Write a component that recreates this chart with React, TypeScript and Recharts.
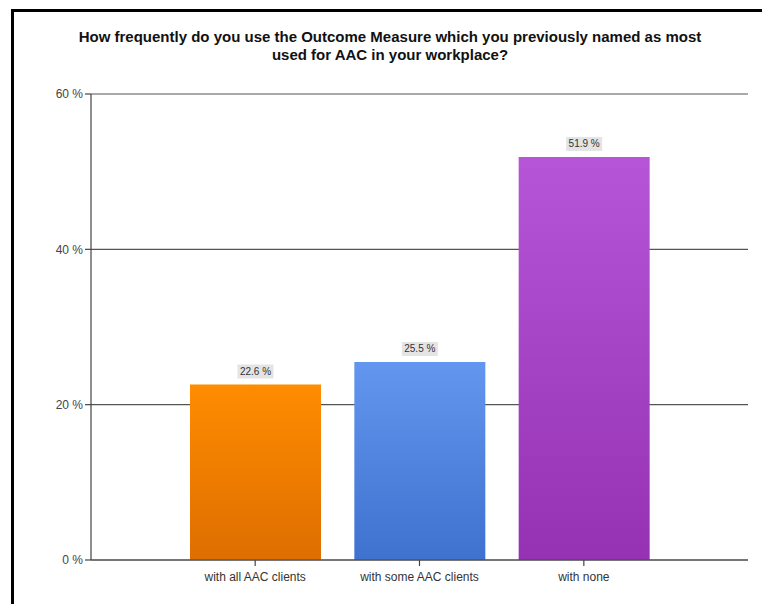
import { BarChart, Bar, CartesianGrid, XAxis, YAxis, LabelList, Cell, Customized } from 'recharts'

const categories = ['with all AAC clients', 'with some AAC clients', 'with none']
const shares = [22.6, 25.5, 51.9]
const yTicks = [0, 20, 40, 60]

const BAR_COLORS = [
  { id: 'gOrange', top: '#ff8c00', bottom: '#de6e00' },
  { id: 'gBlue', top: '#6396ee', bottom: '#3f72cf' },
  { id: 'gPurple', top: '#b655d8', bottom: '#9532b3' },
]

const data = categories.map((name, i) => ({ name, value: shares[i] }))

const ValueLabel = (props: any) => {
  const { x, y, width, value } = props
  const cx = x + width / 2
  const label = `${value} %`
  const w = 36
  return (
    <g>
      <rect x={cx - w / 2} y={y - 20} width={w} height={14} fill="#e4e4e4" />
      <text x={cx} y={y - 9.5} textAnchor="middle" fontSize={10} fill="#333" fontFamily="Liberation Sans, Arial, sans-serif">
        {label}
      </text>
    </g>
  )
}

// little end ticks below the x axis, like the original export
const AxisEnds = (props: any) => {
  const { offset } = props
  if (!offset) return null
  const yb = offset.top + offset.height
  const xl = offset.left
  const xr = offset.left + offset.width
  return (
    <g stroke="#444" strokeWidth={1.2}>
      <line x1={xl} y1={yb} x2={xl} y2={yb + 6} />
      <line x1={xr} y1={yb} x2={xr} y2={yb + 6} />
    </g>
  )
}

export default function App() {
  return (
    <div style={{ position: 'absolute', left: 0, top: 0, width: 762, height: 604, background: '#fff', overflow: 'hidden' }}>
      <div
        style={{
          position: 'absolute',
          left: 11,
          top: 9,
          width: 751,
          height: 595,
          boxSizing: 'border-box',
          borderLeft: '3px solid #000',
          borderTop: '3px solid #000',
        }}
      />
      <div
        style={{
          position: 'absolute',
          left: 40,
          width: 700,
          top: 28,
          textAlign: 'center',
          fontFamily: 'Liberation Sans, Arial, sans-serif',
          fontWeight: 'bold',
          fontSize: 15,
          lineHeight: '18px',
          color: '#111',
        }}
      >
        How frequently do you use the Outcome Measure which you previously named as most
        <br />
        used for AAC in your workplace?
      </div>
      <div style={{ position: 'absolute', left: 0, top: 0 }}>
        <BarChart
          width={762}
          height={604}
          data={data}
          margin={{ top: 94, right: 14, left: 11, bottom: 14 }}
          barSize={131}
        >
          <defs>
            {BAR_COLORS.map((c) => (
              <linearGradient key={c.id} id={c.id} x1="0" y1="0" x2="0" y2="1">
                <stop offset="0%" stopColor={c.top} />
                <stop offset="100%" stopColor={c.bottom} />
              </linearGradient>
            ))}
          </defs>
          <CartesianGrid vertical={false} stroke="#555" strokeWidth={1.2} />
          <XAxis
            dataKey="name"
            height={30}
            padding={{ left: 82, right: 82 }}
            axisLine={{ stroke: '#444', strokeWidth: 1.2 }}
            tickLine={{ stroke: '#444', strokeWidth: 1.2 }}
            tickSize={6}
            tick={{ fill: '#333', fontSize: 12, fontFamily: 'Liberation Sans, Arial, sans-serif', dy: 4 }}
            interval={0}
          />
          <YAxis
            width={80}
            domain={[0, 60]}
            ticks={yTicks}
            tickFormatter={(v) => `${v} %`}
            axisLine={{ stroke: '#444', strokeWidth: 1.2 }}
            tickLine={{ stroke: '#444', strokeWidth: 1.2 }}
            tickSize={6}
            tick={{ fill: '#444', fontSize: 12, fontFamily: 'Liberation Sans, Arial, sans-serif' }}
          />
          <Bar dataKey="value" isAnimationActive={false}>
            {data.map((d, i) => (
              <Cell key={d.name} fill={`url(#${BAR_COLORS[i].id})`} />
            ))}
            <LabelList dataKey="value" content={ValueLabel} />
          </Bar>
          <Customized component={AxisEnds} />
        </BarChart>
      </div>
    </div>
  )
}
